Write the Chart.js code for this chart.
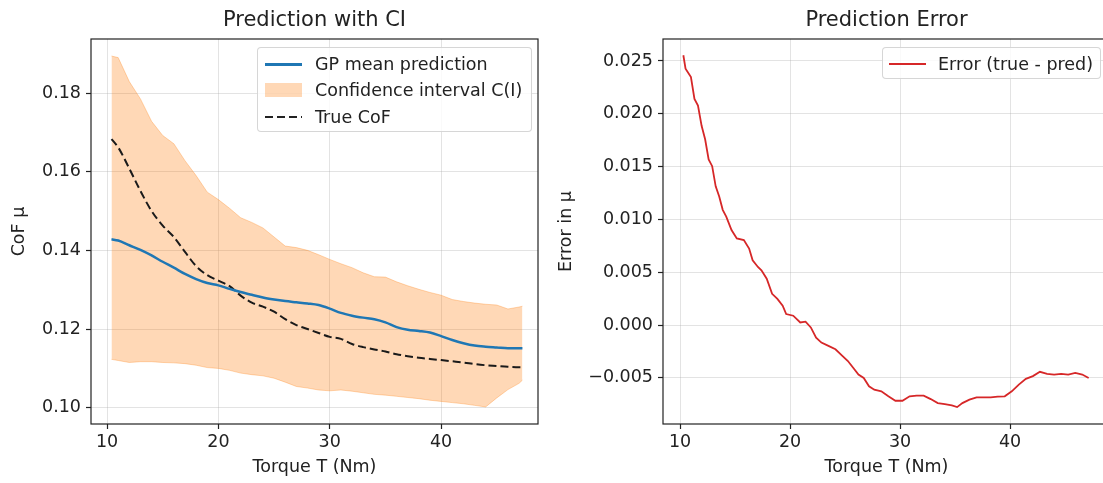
<!DOCTYPE html>
<html>
<head>
<meta charset="utf-8">
<script src="https://cdn.jsdelivr.net/npm/chart.js@4.4.1/dist/chart.umd.min.js"></script>
<style>
  body { margin: 0; width: 1103px; height: 483px; overflow: hidden; background: #fff; position: relative; font-family: "DejaVu Sans", sans-serif; }
  .panel { position: absolute; top: 0; height: 483px; }
  #leftPanel { left: 0; width: 550px; }
  #rightPanel { left: 550px; width: 580px; }
  .legend { position: absolute; box-sizing: border-box; border: 1px solid rgba(204,204,204,0.8); border-radius: 4px; background: rgba(255,255,255,0.8); font-size: 17.5px; color: #222; }
  .legend .txt { position: absolute; height: 20px; line-height: 20px; white-space: nowrap; }
  .legend .handle { position: absolute; width: 37px; }
</style>
</head>
<body>
<div class="panel" id="leftPanel"><canvas id="cofChart" width="550" height="483"></canvas></div>
<div class="panel" id="rightPanel"><canvas id="errChart" width="580" height="483"></canvas></div>

<div class="legend" style="left:257px; top:47px; width:275px; height:85px;">
  <div class="handle" style="left:7px; top:15px; height:2.5px; background:#1f77b4;"></div>
  <div class="txt" style="left:57px; top:6px;">GP mean prediction</div>
  <div class="handle" style="left:7px; top:35px; height:14px; background:rgba(255,127,14,0.3);"></div>
  <div class="txt" style="left:57px; top:32px;">Confidence interval C(I)</div>
  <div class="handle" style="left:7px; top:68px; height:2.2px; background:repeating-linear-gradient(to right, #222 0 8px, transparent 8px 12px);"></div>
  <div class="txt" style="left:57px; top:59px;">True CoF</div>
</div>

<div class="legend" style="left:882px; top:47px; width:219px; height:32px;">
  <div class="handle" style="left:6px; top:15px; height:1.8px; background:#d62728;"></div>
  <div class="txt" style="left:55px; top:6px;">Error (true - pred)</div>
</div>

<script>
// torque grid of the left panel
const torque = [10.4, 11, 12, 13, 14, 15, 16, 17, 18, 19, 20, 21, 22, 23, 24, 25, 26, 27, 28, 29,
  30, 31, 32, 33, 34, 35, 36, 37, 38, 39, 40, 41, 42, 43, 44, 45, 46, 47, 47.3];
const gpMean = [0.1428, 0.1425, 0.1413, 0.1401, 0.1387, 0.1371, 0.1356, 0.1340, 0.1327, 0.1317,
  0.1311, 0.1302, 0.1294, 0.1287, 0.1280, 0.1275, 0.1271, 0.1268, 0.1265, 0.1261,
  0.1252, 0.1241, 0.1234, 0.1229, 0.1225, 0.1217, 0.1205, 0.1198, 0.1195, 0.1191,
  0.1182, 0.1172, 0.1164, 0.1158, 0.1155, 0.1153, 0.1151, 0.1151, 0.1151];
const trueCof = [0.1683, 0.1662, 0.1608, 0.1551, 0.1500, 0.1463, 0.1434, 0.1396, 0.1360, 0.1337,
  0.1323, 0.1309, 0.1285, 0.1267, 0.1257, 0.1244, 0.1225, 0.1210, 0.1200, 0.1190,
  0.1180, 0.1175, 0.1162, 0.1154, 0.1148, 0.1143, 0.1136, 0.1131, 0.1127, 0.1124,
  0.1121, 0.1118, 0.1115, 0.1111, 0.1108, 0.1106, 0.1104, 0.1103, 0.1103];
const ciUpper = [0.1894, 0.1890, 0.1829, 0.1785, 0.1728, 0.1692, 0.1671, 0.1628, 0.1590, 0.1548,
  0.1529, 0.1507, 0.1483, 0.1471, 0.1457, 0.1434, 0.1411, 0.1407, 0.1400, 0.1389,
  0.1377, 0.1366, 0.1356, 0.1343, 0.1333, 0.1332, 0.1320, 0.1310, 0.1301, 0.1293,
  0.1286, 0.1275, 0.1270, 0.1266, 0.1263, 0.1261, 0.1251, 0.1256, 0.1258];
const ciLower = [0.1123, 0.1120, 0.1115, 0.1117, 0.1117, 0.1115, 0.1114, 0.1112, 0.1108, 0.1102,
  0.1100, 0.1095, 0.1088, 0.1084, 0.1081, 0.1075, 0.1065, 0.1054, 0.1050, 0.1045,
  0.1043, 0.1045, 0.1042, 0.1038, 0.1034, 0.1032, 0.1029, 0.1026, 0.1023, 0.1019,
  0.1016, 0.1013, 0.1010, 0.1006, 0.1002, 0.1025, 0.1046, 0.1062, 0.1070];
const cofTicks = [0.10, 0.12, 0.14, 0.16, 0.18];
const torqueTicks = [10, 20, 30, 40];

// right panel: error (true - pred)
const errTorque = [10.3, 10.5, 10.99, 11.31, 11.63, 11.96, 12.28, 12.6, 12.92, 13.24, 13.56, 13.88,
  14.2, 14.68, 15.16, 15.8, 16.28, 16.6, 17.08, 17.4, 17.88, 18.37, 18.85, 19.33, 19.65, 20.29,
  20.93, 21.41, 21.89, 22.37, 22.85, 23.49, 24.13, 24.78, 25.26, 25.74, 26.22, 26.7, 27.18,
  27.66, 28.3, 28.94, 29.58, 30.22, 30.87, 31.51, 32.15, 32.79, 33.43, 34.07, 34.71, 35.19,
  35.67, 36.31, 36.96, 37.6, 38.24, 38.88, 39.52, 40.16, 40.8, 41.44, 42.08, 42.72, 43.37,
  44.01, 44.65, 45.29, 45.93, 46.57, 47.15];
const errValues = [0.02554, 0.02427, 0.02347, 0.02141, 0.02077, 0.01886, 0.01759, 0.01568, 0.01504,
  0.01314, 0.01218, 0.01091, 0.01027, 0.0090, 0.00821, 0.00805, 0.00725, 0.00614, 0.0055,
  0.00518, 0.00439, 0.00296, 0.00248, 0.00184, 0.00105, 0.00089, 0.00025, 0.00032, -0.00022,
  -0.00118, -0.00165, -0.00197, -0.00229, -0.00293, -0.0034, -0.00404, -0.00468, -0.005,
  -0.00579, -0.00611, -0.00627, -0.00674, -0.00716, -0.00716, -0.00674, -0.00668, -0.00668,
  -0.007, -0.00738, -0.00747, -0.0076, -0.00776, -0.00738, -0.00706, -0.00684, -0.00684,
  -0.00684, -0.00677, -0.00674, -0.00627, -0.00563, -0.00509, -0.00483, -0.00442, -0.00461,
  -0.00468, -0.00461, -0.00468, -0.00452, -0.00468, -0.005];
const errTicks = [-0.005, 0, 0.005, 0.010, 0.015, 0.020, 0.025];

const FONT = 'DejaVu Sans';
const INK = '#222';
const GRID = 'rgba(176,176,176,0.35)';
const SIZE = 17.5;

function pts(xs, ys) {
  return xs.map((x, i) => ({ x: x, y: ys[i] }));
}

// draws the full box around the plot like matplotlib spines
const framePlugin = {
  id: 'frame',
  afterDraw(chart) {
    const { ctx, chartArea: a } = chart;
    ctx.save();
    ctx.strokeStyle = INK;
    ctx.lineWidth = 1.2;
    ctx.strokeRect(a.left, a.top, a.right - a.left, a.bottom - a.top);
    ctx.restore();
  }
};

function axisX(min, max) {
  return {
    type: 'linear', min: min, max: max,
    afterBuildTicks: s => { s.ticks = torqueTicks.map(v => ({ value: v })); },
    // fixed height, and no extra side padding for the end labels
    afterFit: s => { s.height = 59; s.paddingLeft = 0; s.paddingRight = 0; },
    grid: { color: GRID, lineWidth: 1, tickColor: INK, tickLength: 5, tickWidth: 1.2 },
    border: { display: false },
    ticks: { color: INK, font: { family: FONT, size: SIZE }, padding: 3, maxRotation: 0, callback: v => String(v) },
    title: { display: true, text: 'Torque T (Nm)', color: INK, font: { family: FONT, size: SIZE }, padding: { top: 0, bottom: 5 } }
  };
}

function axisY(min, max, tickList, digits, width, label, titlePad) {
  return {
    type: 'linear', min: min, max: max,
    afterBuildTicks: s => { s.ticks = tickList.map(v => ({ value: v })); },
    afterFit: s => { s.width = width; s.paddingTop = 0; s.paddingBottom = 0; },
    grid: { color: GRID, lineWidth: 1, tickColor: INK, tickLength: 5, tickWidth: 1.2 },
    border: { display: false },
    ticks: { color: INK, font: { family: FONT, size: SIZE }, padding: 5,
      callback: v => v.toFixed(digits).replace('-', '\u2212') },
    title: { display: true, text: label, color: INK, font: { family: FONT, size: SIZE }, padding: { top: titlePad, bottom: 0 } }
  };
}

function titleOpts(text) {
  return { display: true, text: text, color: INK, fullSize: false,
    font: { family: FONT, size: 21, weight: 'normal' }, padding: { top: 8, bottom: 5.8 } };
}

new Chart(document.getElementById('cofChart'), {
  type: 'line',
  data: {
    datasets: [
      { label: 'GP mean prediction', data: pts(torque, gpMean), borderColor: '#1f77b4', borderWidth: 2.5,
        pointRadius: 0, fill: false, cubicInterpolationMode: 'monotone' },
      { label: 'True CoF', data: pts(torque, trueCof), borderColor: '#1a1a1a', borderWidth: 2,
        borderDash: [8, 4], pointRadius: 0, fill: false, cubicInterpolationMode: 'monotone' },
      { label: 'Confidence interval C(I)', data: pts(torque, ciUpper), borderColor: 'rgba(255,127,14,0.3)',
        borderWidth: 1, backgroundColor: 'rgba(255,127,14,0.3)', pointRadius: 0, fill: '+1', tension: 0 },
      { label: 'ci lower', data: pts(torque, ciLower), borderColor: 'rgba(255,127,14,0.3)',
        borderWidth: 1, pointRadius: 0, fill: false, tension: 0 }
    ]
  },
  options: {
    responsive: false, animation: false, devicePixelRatio: 1, events: [],
    layout: { padding: { left: 0, right: 12, top: 0, bottom: 0 } },
    plugins: { legend: { display: false }, tooltip: { enabled: false }, title: titleOpts('Prediction with CI') },
    scales: {
      x: axisX(8.56, 48.7),
      y: axisY(0.09586, 0.19373, cofTicks, 2, 91, 'CoF \u03bc', 8.5)
    }
  },
  plugins: [framePlugin]
});

// right panel is cut by the page edge, like the reference: plot area runs past x = 1103
new Chart(document.getElementById('errChart'), {
  type: 'line',
  data: {
    datasets: [
      { label: 'Error (true - pred)', data: pts(errTorque, errValues), borderColor: '#d62728', borderWidth: 1.8,
        pointRadius: 0, fill: false, tension: 0 }
    ]
  },
  options: {
    responsive: false, animation: false, devicePixelRatio: 1, events: [],
    layout: { padding: { left: 0, right: 20, top: 0, bottom: 0 } },
    plugins: { legend: { display: false }, tooltip: { enabled: false }, title: titleOpts('Prediction Error') },
    scales: {
      x: axisX(8.45, 49.09),
      y: axisY(-0.00936, 0.02708, errTicks, 3, 113, 'Error in \u03bc', 5.5)
    }
  },
  plugins: [framePlugin]
});
</script>
</body>
</html>
